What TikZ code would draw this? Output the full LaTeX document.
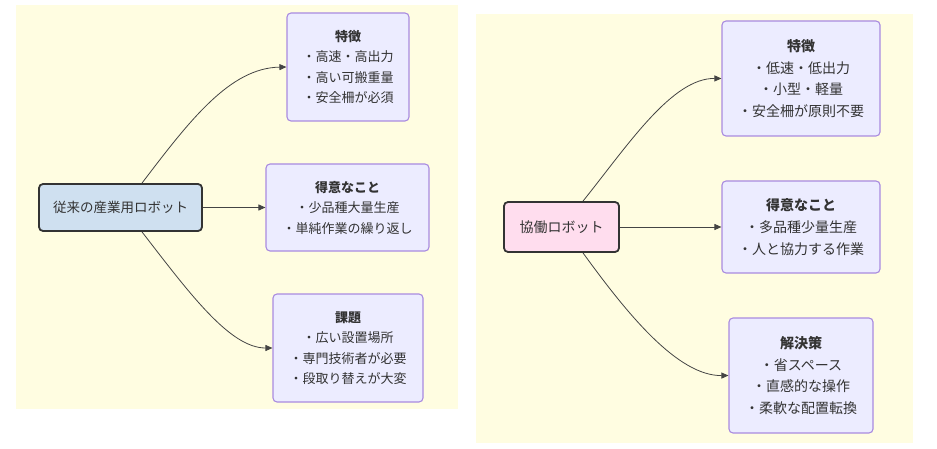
\documentclass[tikz,border=0pt]{standalone}
\usepackage{fontspec}
\setmainfont{Noto Sans CJK JP}
\usetikzlibrary{arrows.meta}
\definecolor{panel}{HTML}{FFFDE1}
\definecolor{boxfill}{HTML}{ECECFF}
\definecolor{boxline}{HTML}{A98BE0}
\definecolor{bluefill}{HTML}{CFE0F0}
\definecolor{pinkfill}{HTML}{FFDDEE}
\definecolor{mainline}{HTML}{333333}
\definecolor{txt}{HTML}{333333}
\definecolor{edge}{HTML}{444444}
\begin{document}
\begin{tikzpicture}[x=1pt,y=-1pt,
  box/.style={draw=boxline, fill=boxfill, line width=1.1pt, rounded corners=4pt,
    inner sep=0pt, align=center, text=txt},
  lfont/.style={font=\fontsize{13}{20.5}\selectfont},
  rfont/.style={font=\fontsize{14}{21.7}\selectfont},
  mainbox/.style={draw=mainline, line width=1.8pt, rounded corners=4pt,
    inner sep=0pt, align=center, text=txt},
  arr/.style={draw=edge, line width=0.8pt, -{Triangle[length=7pt,width=6pt]}}]
\useasboundingbox (0,0) rectangle (937,449);
\fill[white] (0,0) rectangle (937,449);
% panels
\fill[panel] (16,5) rectangle (458,409);
\fill[panel] (476,14) rectangle (913,443);
% left diagram
\node[mainbox, fill=bluefill, lfont, font=\fontsize{13.5}{16}\selectfont,
  minimum width=163pt, minimum height=47pt] (L) at (120.5,207.5) {従来の産業用ロボット};
\node[box, lfont, minimum width=122pt, minimum height=108pt] (L1) at (348,67)
  {\textbf{特徴}\\・高速・高出力\\・高い可搬重量\\・安全柵が必須};
\node[box, lfont, minimum width=163pt, minimum height=87pt] (L2) at (347.5,207.5)
  {\textbf{得意なこと}\\・少品種大量生産\\・単純作業の繰り返し};
\node[box, lfont, minimum width=150pt, minimum height=108pt] (L3) at (348,348)
  {\textbf{課題}\\・広い設置場所\\・専門技術者が必要\\・段取り替えが大変};
\draw[arr] ([xshift=21.5pt]L.north) .. controls (190,120) and (230,68) .. (L1.west);
\draw[arr] (L.east) -- (L2.west);
\draw[arr] ([xshift=21.5pt]L.south) .. controls (190,294) and (230,348) .. (L3.west);
% right diagram
\node[mainbox, fill=pinkfill, font=\fontsize{14}{16}\selectfont,
  minimum width=115pt, minimum height=50pt] (R) at (561.5,227) {協働ロボット};
\node[box, rfont, minimum width=158pt, minimum height=115pt] (R1) at (801,78.5)
  {\textbf{特徴}\\・低速・低出力\\・小型・軽量\\・安全柵が原則不要};
\node[box, rfont, minimum width=158pt, minimum height=92pt] (R2) at (801,227)
  {\textbf{得意なこと}\\・多品種少量生産\\・人と協力する作業};
\node[box, rfont, minimum width=144pt, minimum height=115pt] (R3) at (801,375.5)
  {\textbf{解決策}\\・省スペース\\・直感的な操作\\・柔軟な配置転換};
\draw[arr] ([xshift=21.5pt]R.north) .. controls (628,145) and (672,78) .. (R1.west);
\draw[arr] (R.east) -- (R2.west);
\draw[arr] ([xshift=21.5pt]R.south) .. controls (628,315) and (678,376) .. (R3.west);
\end{tikzpicture}
\end{document}
